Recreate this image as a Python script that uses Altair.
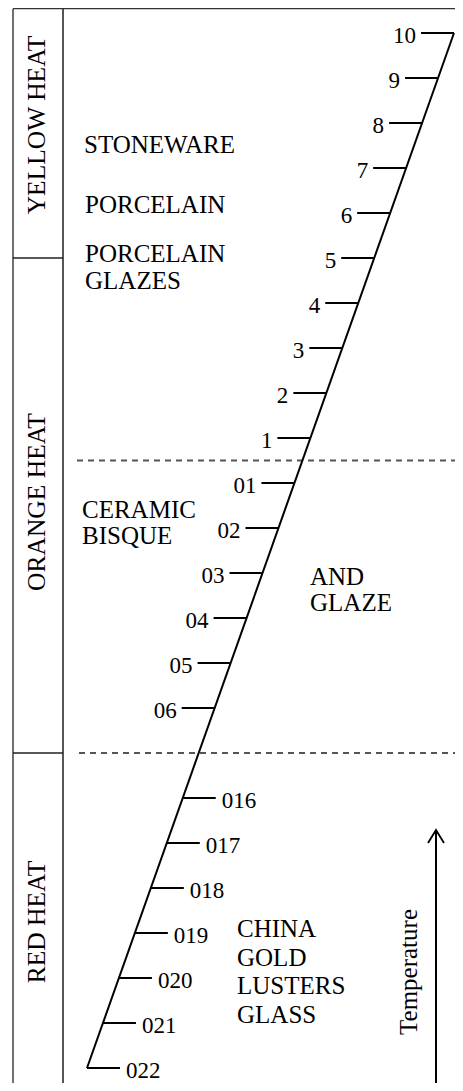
import altair as alt
import pandas as pd

# ---------------- data ----------------
cones = ["022", "021", "020", "019", "018", "017", "016",
         "06", "05", "04", "03", "02", "01",
         "1", "2", "3", "4", "5", "6", "7", "8", "9", "10"]
# position of each cone on the temperature scale (07..015 omitted -> gap)
cone_steps = [0, 1, 2, 3, 4, 5, 6,
              8, 9, 10, 11, 12, 13,
              14, 15, 16, 17, 18, 19, 20, 21, 22, 23]
right_side_cones = ["022", "021", "020", "019", "018", "017", "016"]

heat_bands = ["RED HEAT", "ORANGE HEAT", "YELLOW HEAT"]
band_boundaries = [7, 18]
dashed_levels = [7, 13.5]

product_groups = [
    ["STONEWARE"],
    ["PORCELAIN"],
    ["PORCELAIN", "GLAZES"],
    ["CERAMIC", "BISQUE"],
    ["AND", "GLAZE"],
    ["CHINA", "GOLD", "LUSTERS", "GLASS"],
]
axis_label = "Temperature"

# ---------------- layout ----------------
W, H = 447, 1075          # drawing area (page x 8..455, y 8..1083)
PX_PER_STEP = 45.0
Y_BASE = 1068             # page y of step 0


def step_of(py):
    """page y -> temperature-scale step"""
    return (Y_BASE - py) / PX_PER_STEP


Y_DOMAIN = [step_of(8 + H), step_of(8)]
X_DOMAIN = [8, 8 + W]
DIAG_X0, DIAG_X1 = 87, 454
TOP_STEP = max(cone_steps)
TICK_LEN = 33
FONT = "Liberation Serif"

xs = alt.Scale(domain=X_DOMAIN, nice=False, zero=False)
ys = alt.Scale(domain=Y_DOMAIN, nice=False, zero=False)


def X(field):
    return alt.X(field, type="quantitative", scale=xs, axis=None)


def Y(field):
    return alt.Y(field, type="quantitative", scale=ys, axis=None)


def diag_x(step):
    return DIAG_X0 + step * (DIAG_X1 - DIAG_X0) / TOP_STEP


frame_top = step_of(8.7)
frame_bottom = Y_DOMAIN[0]

# frame
df_vert = pd.DataFrame({"x": [13], "y": [frame_top], "y2": [frame_bottom]})
left_border = alt.Chart(df_vert).mark_rule(color="#222", strokeWidth=1.3).encode(
    x=X("x"), y=Y("y"), y2="y2")
df_col = pd.DataFrame({"x": [63], "y": [frame_top], "y2": [frame_bottom]})
col_border = alt.Chart(df_col).mark_rule(color="#555", strokeWidth=2).encode(
    x=X("x"), y=Y("y"), y2="y2")
df_top = pd.DataFrame({"x": [13], "x2": [455], "y": [frame_top]})
top_border = alt.Chart(df_top).mark_rule(color="#333", strokeWidth=1.3).encode(
    x=X("x"), x2="x2", y=Y("y"))
df_bd = pd.DataFrame({"y": band_boundaries, "x": 13, "x2": 63})
band_div = alt.Chart(df_bd).mark_rule(color="#222", strokeWidth=1.3).encode(
    x=X("x"), x2="x2", y=Y("y"))

# dashed levels
df_dash = pd.DataFrame({"y": dashed_levels, "x": [79, 77], "x2": [455, 455]})
dashed = alt.Chart(df_dash).mark_rule(color="#555", strokeWidth=2, strokeDash=[6, 5]).encode(
    x=X("x"), x2="x2", y=Y("y"))

# diagonal
df_diag = pd.DataFrame({"x": [diag_x(min(cone_steps))], "x2": [diag_x(max(cone_steps))],
                        "y": [min(cone_steps)], "y2": [max(cone_steps)]})
diagonal = alt.Chart(df_diag).mark_rule(color="black", strokeWidth=2).encode(
    x=X("x"), x2="x2", y=Y("y"), y2="y2")

# ticks and labels
df_cone = pd.DataFrame({"cone": cones, "step": cone_steps})
df_cone["right"] = df_cone["cone"].isin(right_side_cones)
df_cone["xd"] = df_cone["step"].map(diag_x)
df_cone["xe"] = df_cone["xd"] + df_cone["right"].map({True: TICK_LEN, False: -TICK_LEN})
df_cone["xl"] = df_cone["xe"] + df_cone["right"].map({True: 6, False: -5})

ticks = alt.Chart(df_cone).mark_rule(color="black", strokeWidth=2).encode(
    x=X("xd"), x2="xe", y=Y("step"))
lab_left = alt.Chart(df_cone[~df_cone["right"]]).mark_text(
    align="right", baseline="alphabetic", dy=10, font=FONT, fontSize=23, color="black"
).encode(x=X("xl"), y=Y("step"), text="cone:N")
lab_right = alt.Chart(df_cone[df_cone["right"]]).mark_text(
    align="left", baseline="alphabetic", dy=10, font=FONT, fontSize=23, color="black"
).encode(x=X("xl"), y=Y("step"), text="cone:N")

# heat band labels (rotated)
df_band = pd.DataFrame({"band": heat_bands, "x": 45,
                        "y": [step_of(922), step_of(502), step_of(125)]})
band_labels = alt.Chart(df_band).mark_text(
    angle=270, align="center", baseline="alphabetic", font=FONT, fontSize=25.5, color="black"
).encode(x=X("x"), y=Y("y"), text="band:N")

# product labels
group_x = [84, 85, 85, 82, 310, 237]
group_y = [153, 213, 262, 518, 585, 937]
group_gap = [27, 27, 27, 26, 26, 28.7]
rows = []
for g, gx, gy, gap in zip(product_groups, group_x, group_y, group_gap):
    for i, t in enumerate(g):
        rows.append({"t": t, "x": gx, "y": step_of(gy + i * gap)})
df_prod = pd.DataFrame(rows)
prod_labels = alt.Chart(df_prod).mark_text(
    align="left", baseline="alphabetic", font=FONT, fontSize=25, color="black"
).encode(x=X("x"), y=Y("y"), text="t:N")

# temperature arrow
df_tl = pd.DataFrame({"t": [axis_label], "x": [417], "y": [step_of(972)]})
temp_label = alt.Chart(df_tl).mark_text(
    angle=270, align="center", baseline="alphabetic", font=FONT, fontSize=25, color="black"
).encode(x=X("x"), y=Y("y"), text="t:N")
df_shaft = pd.DataFrame({"x": [436], "y": [step_of(1083)], "y2": [step_of(830)]})
shaft = alt.Chart(df_shaft).mark_rule(color="black", strokeWidth=2).encode(
    x=X("x"), y=Y("y"), y2="y2")
df_head = pd.DataFrame({"x": [428, 436, 444], "y": [step_of(843), step_of(830), step_of(843)],
                        "o": [0, 1, 2]})
head = alt.Chart(df_head).mark_line(color="black", strokeWidth=1.8).encode(
    x=X("x"), y=Y("y"), order="o:Q")

chart = alt.layer(
    left_border, col_border, top_border, band_div, dashed, diagonal, ticks,
    lab_left, lab_right, band_labels, prod_labels, temp_label, shaft, head
).properties(
    width=W, height=H, padding=0,
    autosize=alt.AutoSizeParams(type="none"),
    background="white",
).configure_view(stroke=None)

chart.save("out.html", embed_options={"renderer": "svg", "actions": False})
